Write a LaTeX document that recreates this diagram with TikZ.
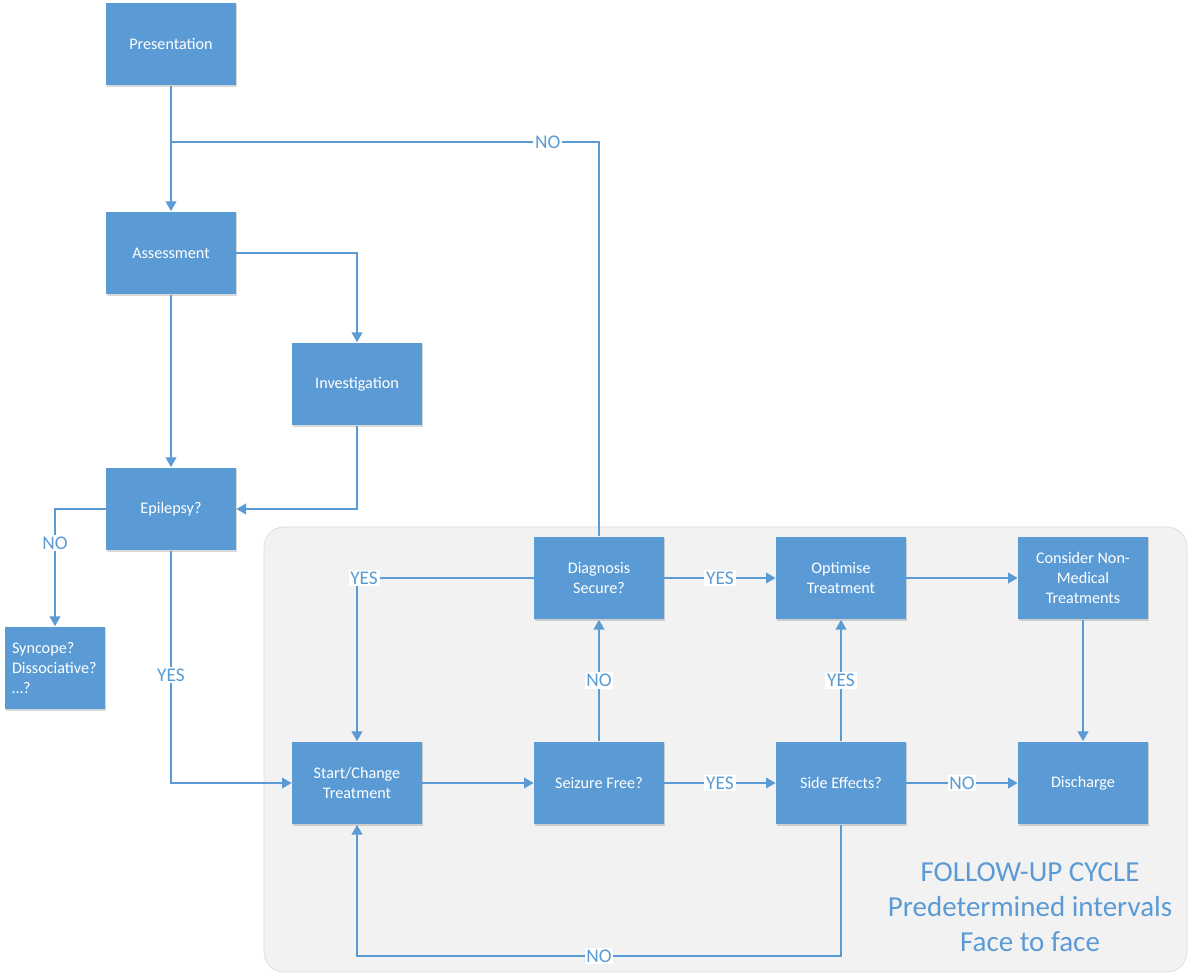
\documentclass[tikz,border=0pt]{standalone}
\usepackage{fontspec}
\setmainfont{Carlito}
\usepackage{xcolor}
\usetikzlibrary{arrows.meta,shadows}
\definecolor{boxblue}{HTML}{5B9BD5}
\definecolor{panelgray}{HTML}{F2F2F2}
\definecolor{panelline}{HTML}{D3DEE9}

\begin{document}
\begin{tikzpicture}[x=0.02cm,y=-0.02cm,
	flow/.style = {draw=boxblue, line width=1.1pt, -{Triangle[length=5.5pt,width=6pt]}},
	main box/.style = {rectangle, fill=boxblue, text=white, minimum width=2.6cm, minimum height=1.66cm,
		align=center, font=\fontsize{9.2}{11.3}\selectfont,
		drop shadow={shadow xshift=0.8pt, shadow yshift=-0.8pt, fill=black, opacity=0.15}},
	lbl/.style = {fill=white, text=boxblue, inner sep=1pt, font=\fontsize{11}{13}\selectfont}]
	\useasboundingbox (0,0) rectangle (1192,979);
	% follow-up panel
	\draw[draw=panelline, fill=panelgray, rounded corners=0.4cm] (264,527) rectangle (1187,972);
	\node[main box] at (171,44) (pres) {Presentation};
	\node[main box] at (171,253) (asse) {Assessment};
	\node[main box] at (357,384) (inv) {Investigation};
	\node[main box] at (171,509) (epi) {Epilepsy?};
	\node[main box, minimum width=2cm, inner xsep=0.14cm, text width=1.72cm, align=left] at (55,668) (syn) {Syncope?\\Dissociative?\\\ldots?};
	\node[main box] at (599,578) (dia) {Diagnosis\\Secure?};
	\node[main box] at (841,578) (opt) {Optimise\\Treatment};
	\node[main box] at (1083,578) (cons) {Consider Non-\\Medical\\Treatments};
	\node[main box] at (357,783) (start) {Start/Change\\Treatment};
	\node[main box] at (599,783) (seiz) {Seizure Free?};
	\node[main box] at (841,783) (side) {Side Effects?};
	\node[main box] at (1083,783) (dis) {Discharge};
	\node[text=boxblue, align=center, font=\fontsize{16.5}{19.8}\selectfont] at (1030,907) (cycle) {FOLLOW-UP CYCLE\\Predetermined intervals\\Face to face};
	% connectors
	\coordinate (join) at (171,142);
	\draw[flow] (pres) -- (asse);
	\draw[flow,-] (dia) |- node[lbl, pos=0.56] (no1) {NO} (join);
	\draw[flow] (asse) -| (inv);
	\draw[flow] (asse) -- (epi);
	\draw[flow] (inv) |- (epi);
	\draw[flow] (epi) -| node[lbl, pos=0.645] (no2) {NO} (syn);
	\draw[flow] (epi) |- node[lbl, pos=0.268] (yes1) {YES} (start);
	\draw[flow] (dia) -| node[lbl, pos=0.5, xshift=4pt] (yes2) {YES} (start);
	\draw[flow] (dia) -- node[lbl] (yes3) {YES} (opt);
	\draw[flow] (opt) -- (cons);
	\draw[flow] (cons) -- (dis);
	\draw[flow] (start) -- (seiz);
	\draw[flow] (seiz) -- node[lbl] (no3) {NO} (dia);
	\draw[flow] (seiz) -- node[lbl] (yes4) {YES} (side);
	\draw[flow] (side) -- node[lbl] (yes5) {YES} (opt);
	\draw[flow] (side) -- node[lbl] (no4) {NO} (dis);
	\draw[flow] (side.south) -- ++(0,131) -| node[lbl, pos=0.25] (no5) {NO} (start);
\end{tikzpicture}
\end{document}
